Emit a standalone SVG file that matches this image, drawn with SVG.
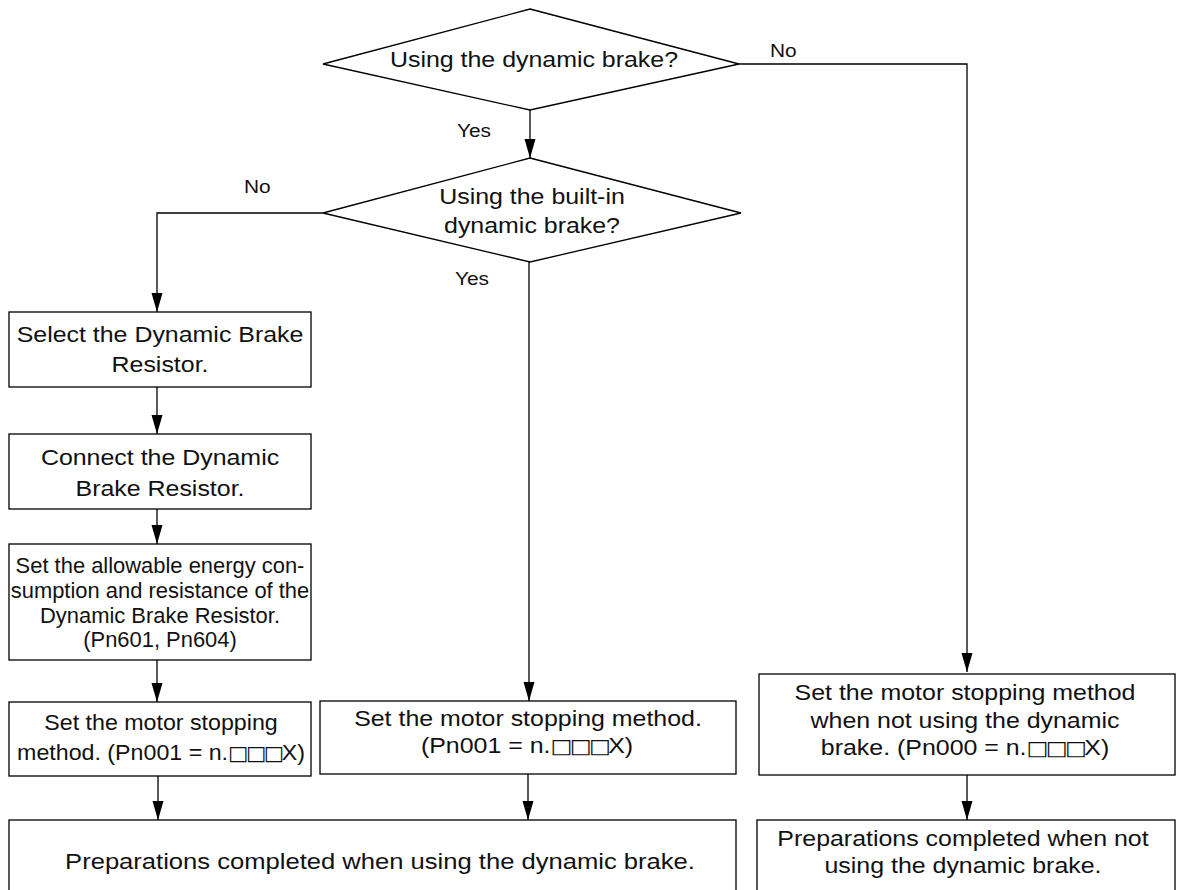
<svg xmlns="http://www.w3.org/2000/svg" width="1177" height="890" viewBox="0 0 1177 890">
<defs>
<marker id="arr" markerUnits="userSpaceOnUse" markerWidth="20" markerHeight="12" refX="19" refY="5.5" orient="auto" viewBox="0 0 20 11">
<path d="M0,0 L19,5.5 L0,11 Z" fill="#000"/>
</marker>
<style>
.box{fill:#fff;stroke:#000;stroke-width:1.3}
.ln{fill:none;stroke:#000;stroke-width:1.3}
.t{font-family:"Liberation Sans",Arial,"DejaVu Sans",sans-serif;font-size:21.5px;fill:#111;text-anchor:middle}
.s{font-family:"Liberation Sans",Arial,"DejaVu Sans",sans-serif;font-size:18px;fill:#111;text-anchor:start}
.q{font-family:"DejaVu Sans",sans-serif;font-size:20px;letter-spacing:-2.3px}
</style>
</defs>
<rect width="1177" height="890" fill="#fff"/>
<g id="connectors">
<polyline class="ln" points="739,64 967,64 967,672" marker-end="url(#arr)"/>
<line class="ln" x1="530" y1="110" x2="530" y2="158" marker-end="url(#arr)"/>
<polyline class="ln" points="323,213 157,213 157,312" marker-end="url(#arr)"/>
<line class="ln" x1="529" y1="262" x2="529" y2="701" marker-end="url(#arr)"/>
<line class="ln" x1="157" y1="387" x2="157" y2="434" marker-end="url(#arr)"/>
<line class="ln" x1="157" y1="509" x2="157" y2="544" marker-end="url(#arr)"/>
<line class="ln" x1="157" y1="660" x2="157" y2="702" marker-end="url(#arr)"/>
<line class="ln" x1="158" y1="776" x2="158" y2="820" marker-end="url(#arr)"/>
<line class="ln" x1="528" y1="774" x2="528" y2="820" marker-end="url(#arr)"/>
<line class="ln" x1="967" y1="775" x2="967" y2="820" marker-end="url(#arr)"/>
<text class="s" transform="matrix(1.16 0 0 1 770 57)" x="0" y="0">No</text>
<text class="s" transform="matrix(1.16 0 0 1 457 137)" x="0" y="0">Yes</text>
<text class="s" transform="matrix(1.16 0 0 1 244 193)" x="0" y="0">No</text>
<text class="s" transform="matrix(1.16 0 0 1 455 285)" x="0" y="0">Yes</text>
</g>
<g id="d1">
<polygon class="box" points="530,9 739,64 530,110 323,64"/>
<text class="t" transform="matrix(1.16 0 0 1 534 67)" x="0" y="0">Using the dynamic brake?</text>
</g>
<g id="d2">
<polygon class="box" points="530,158 741,213 530,262 323,213"/>
<text class="t" transform="matrix(1.16 0 0 1 532 204)" x="0" y="0">Using the built-in</text>
<text class="t" transform="matrix(1.16 0 0 1 532 233)" x="0" y="0">dynamic brake?</text>
</g>
<g id="b1">
<rect class="box" x="9" y="312" width="302" height="75"/>
<text class="t" transform="matrix(1.16 0 0 1 160 342)" x="0" y="0">Select the Dynamic Brake</text>
<text class="t" transform="matrix(1.16 0 0 1 160 372)" x="0" y="0">Resistor.</text>
</g>
<g id="b2">
<rect class="box" x="9" y="434" width="302" height="75"/>
<text class="t" transform="matrix(1.16 0 0 1 160 465)" x="0" y="0">Connect the Dynamic</text>
<text class="t" transform="matrix(1.16 0 0 1 160 496)" x="0" y="0">Brake Resistor.</text>
</g>
<g id="b3">
<rect class="box" x="9" y="544" width="302" height="116"/>
<text class="t" transform="matrix(1.02 0 0 1 160 573)" x="0" y="0">Set the allowable energy con-</text>
<text class="t" transform="matrix(1.02 0 0 1 160 598)" x="0" y="0">sumption and resistance of the</text>
<text class="t" transform="matrix(1.02 0 0 1 160 623)" x="0" y="0">Dynamic Brake Resistor.</text>
<text class="t" transform="matrix(1.02 0 0 1 160 647)" x="0" y="0">(Pn601, Pn604)</text>
</g>
<g id="b4">
<rect class="box" x="9" y="702" width="302" height="74"/>
<text class="t" transform="matrix(1.08 0 0 1 161 730)" x="0" y="0">Set the motor stopping</text>
<text class="t" transform="matrix(1.08 0 0 1 161 760)" x="0" y="0">method. (Pn001 = n.<tspan class="q">□□□</tspan>X)</text>
</g>
<g id="b5">
<rect class="box" x="320" y="701" width="416" height="73"/>
<text class="t" transform="matrix(1.16 0 0 1 528 726)" x="0" y="0">Set the motor stopping method.</text>
<text class="t" transform="matrix(1.16 0 0 1 527 753)" x="0" y="0">(Pn001 = n.<tspan class="q">□□□</tspan>X)</text>
</g>
<g id="b6">
<rect class="box" x="759" y="674" width="416" height="101"/>
<text class="t" transform="matrix(1.16 0 0 1 965 700)" x="0" y="0">Set the motor stopping method</text>
<text class="t" transform="matrix(1.16 0 0 1 965 728)" x="0" y="0">when not using the dynamic</text>
<text class="t" transform="matrix(1.16 0 0 1 965 755)" x="0" y="0">brake. (Pn000 = n.<tspan class="q">□□□</tspan>X)</text>
</g>
<g id="b7">
<rect class="box" x="9" y="820" width="727" height="80"/>
<text class="t" transform="matrix(1.19 0 0 1 380 869)" x="0" y="0">Preparations completed when using the dynamic brake.</text>
</g>
<g id="b8">
<rect class="box" x="757" y="820" width="418" height="80"/>
<text class="t" transform="matrix(1.16 0 0 1 963 846)" x="0" y="0">Preparations completed when not</text>
<text class="t" transform="matrix(1.16 0 0 1 963 873)" x="0" y="0">using the dynamic brake.</text>
</g>
</svg>
